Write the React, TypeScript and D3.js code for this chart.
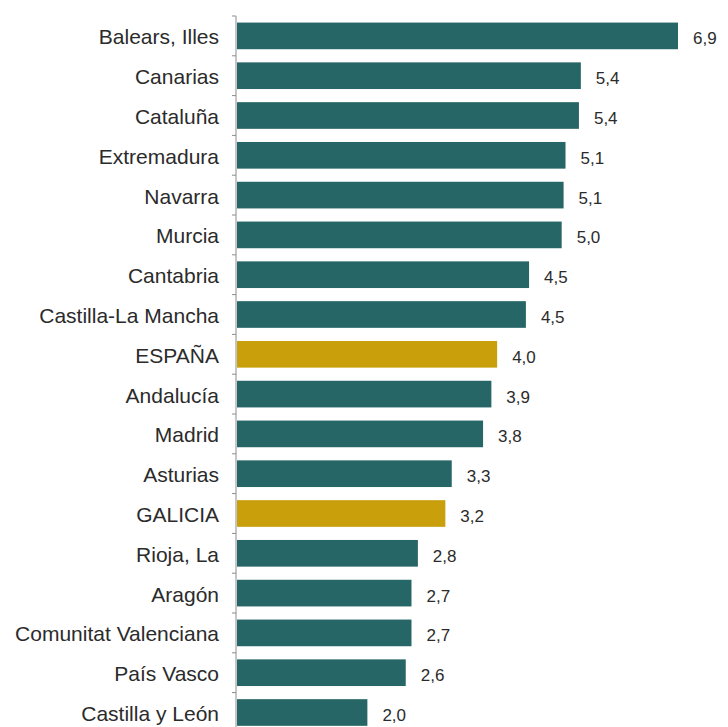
import React from "react";
import * as d3 from "d3";

const categories = [
  "Balears, Illes",
  "Canarias",
  "Cataluña",
  "Extremadura",
  "Navarra",
  "Murcia",
  "Cantabria",
  "Castilla-La Mancha",
  "ESPAÑA",
  "Andalucía",
  "Madrid",
  "Asturias",
  "GALICIA",
  "Rioja, La",
  "Aragón",
  "Comunitat Valenciana",
  "País Vasco",
  "Castilla y León",
];
// bar lengths
const values = [6.9, 5.38, 5.35, 5.14, 5.11, 5.08, 4.57, 4.52, 4.07, 3.98, 3.85, 3.36, 3.26, 2.83, 2.73, 2.73, 2.64, 2.04];
// printed data labels
const valueLabels = ["6,9", "5,4", "5,4", "5,1", "5,1", "5,0", "4,5", "4,5", "4,0", "3,9", "3,8", "3,3", "3,2", "2,8", "2,7", "2,7", "2,6", "2,0"];
const highlighted = ["ESPAÑA", "GALICIA"];

const W = 728;
const H = 727;
const axisX = 236;
const top = 16;
const step = 39.8;

export default function App() {
  const y = d3
    .scaleBand<string>()
    .domain(categories)
    .range([top, top + step * categories.length])
    .paddingInner(0.33)
    .paddingOuter(0.165);
  const x = d3.scaleLinear().domain([0, 6.9]).range([axisX + 1, 678]);
  const bandEdges = categories.map((_, i) => top + i * step);
  bandEdges.push(top + categories.length * step);

  return (
    <div style={{ position: "absolute", left: 0, top: 0 }}>
      <svg width={W} height={H} style={{ display: "block" }}>
        <rect width={W} height={H} fill="#ffffff" />
        {categories.map((c, i) => {
          const v = values[i];
          const yy = y(c)!;
          const bh = y.bandwidth();
          const isH = highlighted.includes(c);
          return (
            <g key={c}>
              <rect
                x={x(0)}
                y={yy}
                width={x(v) - x(0)}
                height={bh}
                fill={isH ? "#C9A00C" : "#266666"}
              />
              <text
                x={axisX - 17}
                y={yy + bh / 2}
                dy="0.4em"
                textAnchor="end"
                fontFamily="Liberation Sans, Arial, sans-serif"
                fontSize={21}
                fill="#2b2b2b"
              >
                {c}
              </text>
              <text
                x={x(v) + 15}
                y={yy + bh / 2}
                dy="0.5em"
                textAnchor="start"
                fontFamily="Liberation Sans, Arial, sans-serif"
                fontSize={17}
                fill="#2b2b2b"
              >
                {valueLabels[i]}
              </text>
            </g>
          );
        })}
        <line x1={axisX} x2={axisX} y1={top} y2={H} stroke="#8c8c8c" strokeWidth={1} />
        {bandEdges.map((e, i) => (
          <line key={i} x1={axisX - 4} x2={axisX} y1={e} y2={e} stroke="#8c8c8c" strokeWidth={1} />
        ))}
      </svg>
    </div>
  );
}
